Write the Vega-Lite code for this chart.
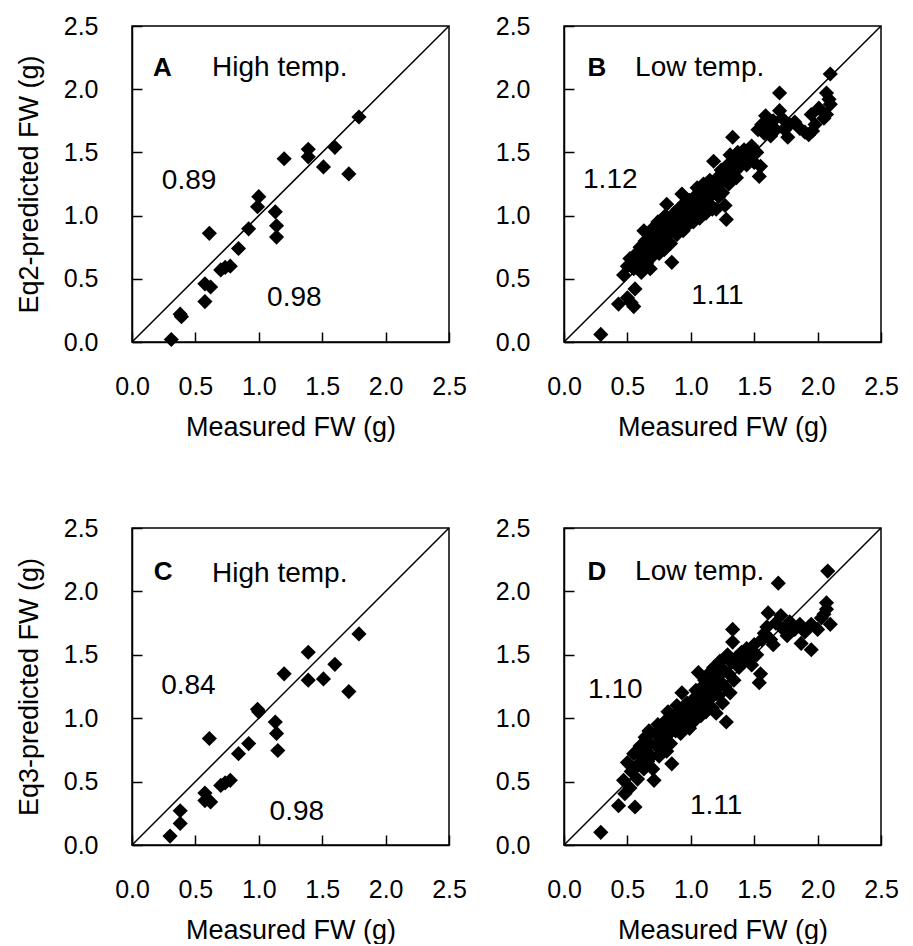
{
  "$schema": "https://vega.github.io/schema/vega-lite/v6.json",
  "padding": {"left": 14, "top": 13, "right": 0, "bottom": 0},
  "background": "white",
  "config": {
    "font": "Liberation Sans",
    "view": {"stroke": "black", "strokeWidth": 1.5},
    "axis": {
      "grid": false,
      "domainColor": "black",
      "domainWidth": 1.5,
      "tickColor": "black",
      "tickWidth": 1.5,
      "tickSize": -10,
      "labelFont": "Liberation Sans",
      "labelFontSize": 25,
      "labelColor": "black",
      "labelFlush": false,
      "labelOverlap": false,
      "titleFont": "Liberation Sans",
      "titleFontSize": 27,
      "titleFontWeight": "normal",
      "titleColor": "black"
    },
    "axisX": {"labelPadding": 42, "titlePadding": 15},
    "axisY": {"labelPadding": 44, "titlePadding": 20}
  },
  "datasets": {
    "diag": [{"x": 0, "y": 0}, {"x": 2.5, "y": 2.5}],
    "A": [
      {"x": 0.31, "y": 0.02}, {"x": 0.38, "y": 0.22}, {"x": 0.39, "y": 0.20}, {"x": 0.575, "y": 0.32},
      {"x": 0.575, "y": 0.46}, {"x": 0.62, "y": 0.435}, {"x": 0.61, "y": 0.86}, {"x": 0.70, "y": 0.57},
      {"x": 0.735, "y": 0.59}, {"x": 0.775, "y": 0.60}, {"x": 0.84, "y": 0.74}, {"x": 0.92, "y": 0.895},
      {"x": 0.99, "y": 1.07}, {"x": 1.0, "y": 1.15}, {"x": 1.13, "y": 1.03}, {"x": 1.14, "y": 0.92},
      {"x": 1.14, "y": 0.83}, {"x": 1.20, "y": 1.45}, {"x": 1.39, "y": 1.525}, {"x": 1.39, "y": 1.465},
      {"x": 1.51, "y": 1.385}, {"x": 1.60, "y": 1.54}, {"x": 1.71, "y": 1.33}, {"x": 1.79, "y": 1.78}
    ],
    "C": [
      {"x": 0.30, "y": 0.07}, {"x": 0.38, "y": 0.17}, {"x": 0.38, "y": 0.27}, {"x": 0.575, "y": 0.41},
      {"x": 0.575, "y": 0.35}, {"x": 0.62, "y": 0.34}, {"x": 0.61, "y": 0.84}, {"x": 0.70, "y": 0.47},
      {"x": 0.735, "y": 0.49}, {"x": 0.775, "y": 0.51}, {"x": 0.84, "y": 0.72}, {"x": 0.92, "y": 0.80},
      {"x": 0.99, "y": 1.07}, {"x": 1.0, "y": 1.05}, {"x": 1.13, "y": 0.97}, {"x": 1.14, "y": 0.88},
      {"x": 1.15, "y": 0.745}, {"x": 1.20, "y": 1.35}, {"x": 1.39, "y": 1.52}, {"x": 1.39, "y": 1.30},
      {"x": 1.51, "y": 1.31}, {"x": 1.60, "y": 1.425}, {"x": 1.71, "y": 1.21}, {"x": 1.79, "y": 1.665}
    ],
    "B": [
      {"x": 0.29, "y": 0.06}, {"x": 0.43, "y": 0.30}, {"x": 0.50, "y": 0.35}, {"x": 0.55, "y": 0.28}, {"x": 0.56, "y": 0.42}, {"x": 0.53, "y": 0.31},
      {"x": 0.47, "y": 0.53}, {"x": 0.50, "y": 0.60}, {"x": 0.52, "y": 0.66}, {"x": 0.55, "y": 0.58}, {"x": 0.57, "y": 0.70}, {"x": 0.58, "y": 0.63},
      {"x": 0.60, "y": 0.75}, {"x": 0.61, "y": 0.55}, {"x": 0.62, "y": 0.68}, {"x": 0.63, "y": 0.88}, {"x": 0.64, "y": 0.80}, {"x": 0.65, "y": 0.62},
      {"x": 0.66, "y": 0.72}, {"x": 0.67, "y": 0.85}, {"x": 0.68, "y": 0.58}, {"x": 0.69, "y": 0.78}, {"x": 0.70, "y": 0.68}, {"x": 0.70, "y": 0.90},
      {"x": 0.72, "y": 0.82}, {"x": 0.73, "y": 0.75}, {"x": 0.74, "y": 0.95}, {"x": 0.75, "y": 0.70}, {"x": 0.76, "y": 0.86}, {"x": 0.77, "y": 0.80},
      {"x": 0.78, "y": 0.92}, {"x": 0.79, "y": 0.73}, {"x": 0.80, "y": 1.00}, {"x": 0.81, "y": 1.09}, {"x": 0.82, "y": 0.85}, {"x": 0.83, "y": 0.95},
      {"x": 0.84, "y": 0.78}, {"x": 0.85, "y": 0.63}, {"x": 0.86, "y": 0.90}, {"x": 0.87, "y": 1.02}, {"x": 0.88, "y": 0.96}, {"x": 0.89, "y": 0.85},
      {"x": 0.90, "y": 1.05}, {"x": 0.91, "y": 0.92}, {"x": 0.92, "y": 1.00}, {"x": 0.93, "y": 1.17}, {"x": 0.94, "y": 0.88}, {"x": 0.95, "y": 1.10},
      {"x": 0.96, "y": 0.97}, {"x": 0.97, "y": 1.05}, {"x": 0.98, "y": 0.93}, {"x": 0.99, "y": 1.12},
      {"x": 1.00, "y": 1.00}, {"x": 1.01, "y": 1.08}, {"x": 1.02, "y": 0.95}, {"x": 1.03, "y": 1.15}, {"x": 1.04, "y": 1.02}, {"x": 1.05, "y": 1.22},
      {"x": 1.06, "y": 1.10}, {"x": 1.07, "y": 0.98}, {"x": 1.08, "y": 1.18}, {"x": 1.09, "y": 1.06}, {"x": 1.10, "y": 1.25}, {"x": 1.11, "y": 1.13},
      {"x": 1.12, "y": 1.02}, {"x": 1.13, "y": 1.20}, {"x": 1.14, "y": 1.10}, {"x": 1.15, "y": 1.28}, {"x": 1.16, "y": 1.16}, {"x": 1.17, "y": 1.05},
      {"x": 1.18, "y": 1.43}, {"x": 1.19, "y": 1.22}, {"x": 1.20, "y": 1.05}, {"x": 1.21, "y": 1.30}, {"x": 1.22, "y": 1.15}, {"x": 1.23, "y": 1.25},
      {"x": 1.24, "y": 1.36}, {"x": 1.25, "y": 1.18}, {"x": 1.26, "y": 1.30}, {"x": 1.27, "y": 1.08}, {"x": 1.28, "y": 0.97}, {"x": 1.29, "y": 1.40},
      {"x": 1.30, "y": 1.25}, {"x": 1.31, "y": 1.48}, {"x": 1.32, "y": 1.35}, {"x": 1.33, "y": 1.62}, {"x": 1.34, "y": 1.42},
      {"x": 1.36, "y": 1.30}, {"x": 1.37, "y": 1.50}, {"x": 1.38, "y": 1.38}, {"x": 1.40, "y": 1.45}, {"x": 1.42, "y": 1.52}, {"x": 1.44, "y": 1.40},
      {"x": 1.46, "y": 1.48}, {"x": 1.48, "y": 1.55}, {"x": 1.49, "y": 1.51}, {"x": 1.50, "y": 1.42}, {"x": 1.52, "y": 1.50}, {"x": 1.53, "y": 1.68},
      {"x": 1.54, "y": 1.31}, {"x": 1.55, "y": 1.39}, {"x": 1.56, "y": 1.72}, {"x": 1.58, "y": 1.65}, {"x": 1.59, "y": 1.79},
      {"x": 1.62, "y": 1.70}, {"x": 1.63, "y": 1.63}, {"x": 1.65, "y": 1.75}, {"x": 1.67, "y": 1.68}, {"x": 1.70, "y": 1.97}, {"x": 1.70, "y": 1.83},
      {"x": 1.72, "y": 1.77}, {"x": 1.74, "y": 1.68}, {"x": 1.765, "y": 1.62}, {"x": 1.78, "y": 1.72}, {"x": 1.82, "y": 1.74}, {"x": 1.86, "y": 1.69},
      {"x": 1.90, "y": 1.66}, {"x": 1.93, "y": 1.64}, {"x": 1.96, "y": 1.67}, {"x": 1.95, "y": 1.80}, {"x": 1.98, "y": 1.72}, {"x": 2.01, "y": 1.85},
      {"x": 2.05, "y": 1.77}, {"x": 2.07, "y": 1.97}, {"x": 2.07, "y": 1.80}, {"x": 2.10, "y": 1.88}, {"x": 2.10, "y": 2.12}, {"x": 2.09, "y": 1.92}
    ],
    "D": [
      {"x": 0.29, "y": 0.10}, {"x": 0.43, "y": 0.31}, {"x": 0.56, "y": 0.30}, {"x": 0.48, "y": 0.405}, {"x": 0.52, "y": 0.45}, {"x": 0.47, "y": 0.51},
      {"x": 0.50, "y": 0.65}, {"x": 0.53, "y": 0.58}, {"x": 0.55, "y": 0.72}, {"x": 0.57, "y": 0.62}, {"x": 0.58, "y": 0.52}, {"x": 0.60, "y": 0.78},
      {"x": 0.62, "y": 0.68}, {"x": 0.63, "y": 0.60}, {"x": 0.64, "y": 0.85}, {"x": 0.65, "y": 0.74}, {"x": 0.66, "y": 0.66}, {"x": 0.67, "y": 0.90},
      {"x": 0.68, "y": 0.80}, {"x": 0.69, "y": 0.70}, {"x": 0.70, "y": 0.60}, {"x": 0.71, "y": 0.51}, {"x": 0.72, "y": 0.88}, {"x": 0.73, "y": 0.78},
      {"x": 0.74, "y": 0.95}, {"x": 0.75, "y": 0.70}, {"x": 0.76, "y": 0.84}, {"x": 0.77, "y": 0.76}, {"x": 0.78, "y": 0.92}, {"x": 0.79, "y": 0.82},
      {"x": 0.80, "y": 0.98}, {"x": 0.81, "y": 0.74}, {"x": 0.82, "y": 1.05}, {"x": 0.83, "y": 0.88}, {"x": 0.84, "y": 0.80}, {"x": 0.85, "y": 0.64},
      {"x": 0.86, "y": 0.95}, {"x": 0.87, "y": 1.02}, {"x": 0.88, "y": 0.90}, {"x": 0.89, "y": 1.10}, {"x": 0.90, "y": 0.96}, {"x": 0.91, "y": 1.05},
      {"x": 0.92, "y": 0.88}, {"x": 0.93, "y": 1.20}, {"x": 0.94, "y": 1.00}, {"x": 0.95, "y": 1.08}, {"x": 0.96, "y": 0.95}, {"x": 0.97, "y": 1.12},
      {"x": 0.98, "y": 1.02}, {"x": 0.99, "y": 0.92},
      {"x": 1.00, "y": 1.10}, {"x": 1.01, "y": 1.04}, {"x": 1.02, "y": 1.15}, {"x": 1.03, "y": 0.98}, {"x": 1.04, "y": 1.22}, {"x": 1.05, "y": 1.08},
      {"x": 1.06, "y": 1.36}, {"x": 1.07, "y": 1.18}, {"x": 1.08, "y": 1.02}, {"x": 1.09, "y": 1.25}, {"x": 1.10, "y": 1.12}, {"x": 1.11, "y": 1.30},
      {"x": 1.12, "y": 1.05}, {"x": 1.13, "y": 1.20}, {"x": 1.14, "y": 1.35}, {"x": 1.15, "y": 1.15}, {"x": 1.16, "y": 1.28}, {"x": 1.17, "y": 1.08},
      {"x": 1.18, "y": 1.40}, {"x": 1.19, "y": 1.22}, {"x": 1.20, "y": 1.04}, {"x": 1.21, "y": 1.32}, {"x": 1.22, "y": 1.18}, {"x": 1.23, "y": 1.45},
      {"x": 1.24, "y": 1.28}, {"x": 1.25, "y": 1.12}, {"x": 1.26, "y": 1.38}, {"x": 1.27, "y": 1.25}, {"x": 1.28, "y": 0.97}, {"x": 1.29, "y": 1.50},
      {"x": 1.30, "y": 1.35}, {"x": 1.31, "y": 1.20}, {"x": 1.32, "y": 1.44}, {"x": 1.33, "y": 1.70}, {"x": 1.33, "y": 1.60}, {"x": 1.34, "y": 1.30},
      {"x": 1.36, "y": 1.48}, {"x": 1.38, "y": 1.40}, {"x": 1.40, "y": 1.52}, {"x": 1.42, "y": 1.45}, {"x": 1.44, "y": 1.55}, {"x": 1.46, "y": 1.48},
      {"x": 1.48, "y": 1.42}, {"x": 1.49, "y": 1.49}, {"x": 1.50, "y": 1.58}, {"x": 1.52, "y": 1.50}, {"x": 1.54, "y": 1.28}, {"x": 1.55, "y": 1.35},
      {"x": 1.56, "y": 1.62}, {"x": 1.58, "y": 1.67}, {"x": 1.60, "y": 1.72},
      {"x": 1.61, "y": 1.83}, {"x": 1.63, "y": 1.62}, {"x": 1.65, "y": 1.58}, {"x": 1.67, "y": 1.75}, {"x": 1.69, "y": 2.065}, {"x": 1.71, "y": 1.81},
      {"x": 1.73, "y": 1.70}, {"x": 1.76, "y": 1.65}, {"x": 1.78, "y": 1.76}, {"x": 1.82, "y": 1.70}, {"x": 1.86, "y": 1.74}, {"x": 1.87, "y": 1.59},
      {"x": 1.90, "y": 1.68}, {"x": 1.95, "y": 1.54}, {"x": 1.95, "y": 1.74}, {"x": 2.00, "y": 1.70}, {"x": 2.03, "y": 1.79}, {"x": 2.07, "y": 1.91},
      {"x": 2.07, "y": 1.86}, {"x": 2.10, "y": 1.74}, {"x": 2.08, "y": 2.16}, {"x": 2.05, "y": 1.82}
    ],
    "letA": [{"x": 0.24, "y": 2.17, "label": "A"}],
    "letB": [{"x": 0.26, "y": 2.17, "label": "B"}],
    "letC": [{"x": 0.245, "y": 2.15, "label": "C"}],
    "letD": [{"x": 0.26, "y": 2.15, "label": "D"}],
    "txtA": [{"x": 1.165, "y": 2.17, "label": "High temp."}, {"x": 0.45, "y": 1.27, "label": "0.89"}, {"x": 1.28, "y": 0.35, "label": "0.98"}],
    "txtB": [{"x": 1.07, "y": 2.17, "label": "Low temp."}, {"x": 0.365, "y": 1.28, "label": "1.12"}, {"x": 1.21, "y": 0.36, "label": "1.11"}],
    "txtC": [{"x": 1.165, "y": 2.14, "label": "High temp."}, {"x": 0.445, "y": 1.255, "label": "0.84"}, {"x": 1.30, "y": 0.26, "label": "0.98"}],
    "txtD": [{"x": 1.07, "y": 2.15, "label": "Low temp."}, {"x": 0.405, "y": 1.22, "label": "1.10"}, {"x": 1.20, "y": 0.31, "label": "1.11"}]
  },
  "vconcat": [
    {
      "bounds": "flush",
      "spacing": 115,
      "hconcat": [
        {
          "width": 317, "height": 316,
          "encoding": {
            "x": {"field": "x", "type": "quantitative", "scale": {"domain": [0, 2.5], "nice": false, "zero": false}, "axis": {"title": "Measured FW (g)", "values": [0, 0.5, 1, 1.5, 2, 2.5], "format": ".1f"}},
            "y": {"field": "y", "type": "quantitative", "scale": {"domain": [0, 2.5], "nice": false, "zero": false}, "axis": {"title": "Eq2-predicted FW (g)", "values": [0, 0.5, 1, 1.5, 2, 2.5], "format": ".1f"}}
          },
          "layer": [
            {"data": {"name": "diag"}, "mark": {"type": "line", "color": "black", "strokeWidth": 1.5, "clip": true}},
            {"data": {"name": "A"}, "mark": {"type": "point", "shape": "diamond", "filled": true, "color": "black", "opacity": 1, "size": 230}},
            {"data": {"name": "letA"}, "mark": {"type": "text", "fontSize": 26, "fontWeight": "bold", "color": "black", "align": "center", "baseline": "middle"}, "encoding": {"text": {"field": "label"}}},
            {"data": {"name": "txtA"}, "mark": {"type": "text", "fontSize": 28, "color": "black", "align": "center", "baseline": "middle"}, "encoding": {"text": {"field": "label"}}}
          ]
        },
        {
          "width": 317, "height": 316,
          "encoding": {
            "x": {"field": "x", "type": "quantitative", "scale": {"domain": [0, 2.5], "nice": false, "zero": false}, "axis": {"title": "Measured FW (g)", "values": [0, 0.5, 1, 1.5, 2, 2.5], "format": ".1f"}},
            "y": {"field": "y", "type": "quantitative", "scale": {"domain": [0, 2.5], "nice": false, "zero": false}, "axis": {"title": null, "values": [0, 0.5, 1, 1.5, 2, 2.5], "format": ".1f"}}
          },
          "layer": [
            {"data": {"name": "diag"}, "mark": {"type": "line", "color": "black", "strokeWidth": 1.5, "clip": true}},
            {"data": {"name": "B"}, "mark": {"type": "point", "shape": "diamond", "filled": true, "color": "black", "opacity": 1, "size": 230}},
            {"data": {"name": "letB"}, "mark": {"type": "text", "fontSize": 26, "fontWeight": "bold", "color": "black", "align": "center", "baseline": "middle"}, "encoding": {"text": {"field": "label"}}},
            {"data": {"name": "txtB"}, "mark": {"type": "text", "fontSize": 28, "color": "black", "align": "center", "baseline": "middle"}, "encoding": {"text": {"field": "label"}}}
          ]
        }
      ]
    },
    {
      "bounds": "flush",
      "spacing": 115,
      "hconcat": [
        {
          "width": 317, "height": 317,
          "encoding": {
            "x": {"field": "x", "type": "quantitative", "scale": {"domain": [0, 2.5], "nice": false, "zero": false}, "axis": {"title": "Measured FW (g)", "values": [0, 0.5, 1, 1.5, 2, 2.5], "format": ".1f"}},
            "y": {"field": "y", "type": "quantitative", "scale": {"domain": [0, 2.5], "nice": false, "zero": false}, "axis": {"title": "Eq3-predicted FW (g)", "values": [0, 0.5, 1, 1.5, 2, 2.5], "format": ".1f"}}
          },
          "layer": [
            {"data": {"name": "diag"}, "mark": {"type": "line", "color": "black", "strokeWidth": 1.5, "clip": true}},
            {"data": {"name": "C"}, "mark": {"type": "point", "shape": "diamond", "filled": true, "color": "black", "opacity": 1, "size": 230}},
            {"data": {"name": "letC"}, "mark": {"type": "text", "fontSize": 26, "fontWeight": "bold", "color": "black", "align": "center", "baseline": "middle"}, "encoding": {"text": {"field": "label"}}},
            {"data": {"name": "txtC"}, "mark": {"type": "text", "fontSize": 28, "color": "black", "align": "center", "baseline": "middle"}, "encoding": {"text": {"field": "label"}}}
          ]
        },
        {
          "width": 317, "height": 317,
          "encoding": {
            "x": {"field": "x", "type": "quantitative", "scale": {"domain": [0, 2.5], "nice": false, "zero": false}, "axis": {"title": "Measured FW (g)", "values": [0, 0.5, 1, 1.5, 2, 2.5], "format": ".1f"}},
            "y": {"field": "y", "type": "quantitative", "scale": {"domain": [0, 2.5], "nice": false, "zero": false}, "axis": {"title": null, "values": [0, 0.5, 1, 1.5, 2, 2.5], "format": ".1f"}}
          },
          "layer": [
            {"data": {"name": "diag"}, "mark": {"type": "line", "color": "black", "strokeWidth": 1.5, "clip": true}},
            {"data": {"name": "D"}, "mark": {"type": "point", "shape": "diamond", "filled": true, "color": "black", "opacity": 1, "size": 230}},
            {"data": {"name": "letD"}, "mark": {"type": "text", "fontSize": 26, "fontWeight": "bold", "color": "black", "align": "center", "baseline": "middle"}, "encoding": {"text": {"field": "label"}}},
            {"data": {"name": "txtD"}, "mark": {"type": "text", "fontSize": 28, "color": "black", "align": "center", "baseline": "middle"}, "encoding": {"text": {"field": "label"}}}
          ]
        }
      ]
    }
  ],
  "bounds": "flush",
  "spacing": 502
}
